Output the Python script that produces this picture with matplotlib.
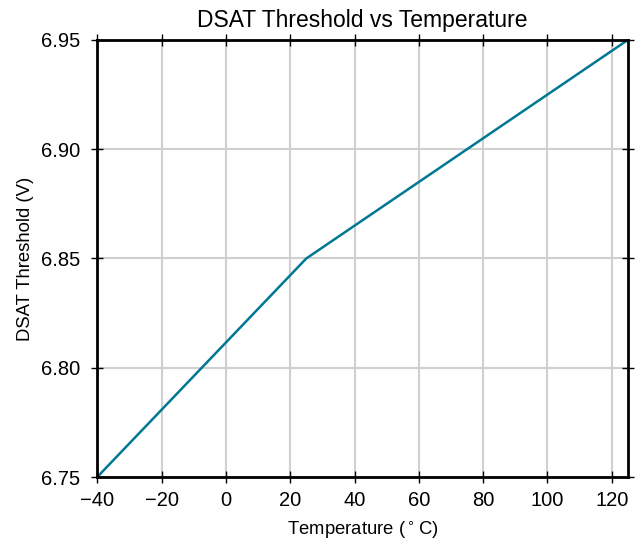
import numpy as np
import matplotlib
matplotlib.use('Agg')
import matplotlib.pyplot as plt

plt.rcParams['font.family'] = ['Liberation Sans', 'DejaVu Sans']

temps = [-40, 25, 125]
thresh = [6.75, 6.85, 6.95]
xticks = [-40, -20, 0, 20, 40, 60, 80, 100, 120]
yticks = [6.75, 6.80, 6.85, 6.90, 6.95]

fig = plt.figure(figsize=(6.44, 5.43), dpi=100)
ax = fig.add_axes([0.151, 0.1215, 0.824, 0.805])

ax.plot(temps, thresh, color='#007894', lw=1.8, zorder=3)

ax.set_xlim(-40, 125)
ax.set_ylim(6.75, 6.95)
ax.set_xticks(xticks)
ax.set_xticklabels([str(t).replace('-', '\u2212') for t in xticks])
ax.set_yticks(yticks)
ax.set_yticklabels(['%.2f' % v for v in yticks])
ax.grid(True, color='#d0d0d0', lw=1.5)
ax.tick_params(direction='inout', length=8, width=1, labelsize=14.5,
               top=True, right=True, colors='black')
ax.tick_params(axis='x', pad=6)
ax.tick_params(axis='y', pad=8)
for s in ax.spines.values():
    s.set_linewidth(2)
    s.set_zorder(4)

ax.set_title('DSAT Threshold vs Temperature', fontsize=16.5, pad=9)
ax.set_xlabel('Temperature ($^\\circ$C)', fontsize=13.3, labelpad=7)
ax.set_ylabel('DSAT Threshold (V)', fontsize=13.3, labelpad=5)

fig.savefig('out.png', dpi=100)
